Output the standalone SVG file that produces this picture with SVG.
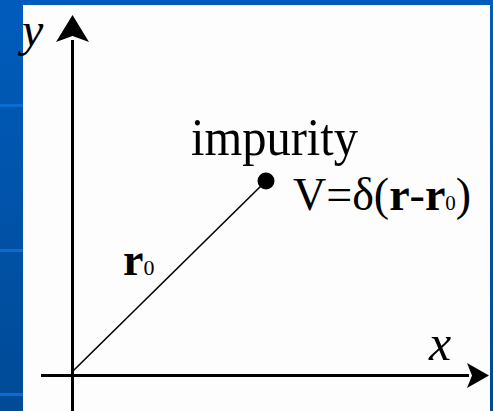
<svg xmlns="http://www.w3.org/2000/svg" width="493" height="411" viewBox="0 0 493 411">
  <defs>
    <linearGradient id="bg" x1="0" y1="0" x2="0" y2="1">
      <stop offset="0" stop-color="#005cbc"/>
      <stop offset="1" stop-color="#004a96"/>
    </linearGradient>
    <marker id="arrow-y" viewBox="0 0 28 34" refX="2" refY="17" markerWidth="28" markerHeight="34" markerUnits="userSpaceOnUse" orient="auto">
      <path d="M0,0.5 L27,17 L0,33.5 L6,17 Z" fill="#000"/>
    </marker>
    <marker id="arrow-x" viewBox="0 0 24 26" refX="2" refY="13" markerWidth="24" markerHeight="26" markerUnits="userSpaceOnUse" orient="auto">
      <path d="M0,0.5 L22,13 L0,25.5 L5,13 Z" fill="#000"/>
    </marker>
  </defs>
  <style>
    .serif { font-family: "Liberation Serif", "Times New Roman", serif; fill: #000; }
    .axis { stroke: #000; stroke-width: 3; fill: none; }
    .band { fill: #0a6cd2; }
  </style>
  <g id="background">
    <rect x="0" y="0" width="493" height="411" fill="url(#bg)"/>
    <rect class="band" x="0" y="104" width="23" height="3"/>
    <rect class="band" x="0" y="249" width="23" height="3"/>
    <rect class="band" x="0" y="393" width="23" height="3"/>
    <rect x="23" y="5" width="467" height="406" fill="#fdfdfd"/>
  </g>
  <g id="connectors">
    <line id="y-axis" class="axis" x1="72.5" y1="411" x2="72.5" y2="40" marker-end="url(#arrow-y)"/>
    <line id="x-axis" class="axis" x1="41" y1="375.5" x2="469" y2="375.5" marker-end="url(#arrow-x)"/>
    <line id="r0-vector" x1="73" y1="371" x2="266" y2="181" stroke="#000" stroke-width="1.6"/>
  </g>
  <g id="y-label">
    <text class="serif" x="22" y="46" font-size="48" font-style="italic">y</text>
  </g>
  <g id="x-label">
    <text class="serif" x="429" y="360" font-size="50" font-style="italic">x</text>
  </g>
  <g id="impurity">
    <circle cx="266" cy="181" r="8.5" fill="#000"/>
    <text class="serif" x="191" y="155" font-size="52" textLength="167" lengthAdjust="spacingAndGlyphs">impurity</text>
  </g>
  <g id="potential">
    <text class="serif" x="293" y="210" font-size="46">V=δ(<tspan font-weight="bold">r</tspan>-<tspan font-weight="bold">r</tspan><tspan font-size="21">0</tspan>)</text>
  </g>
  <g id="r0-label">
    <text class="serif" x="123" y="275" font-size="46"><tspan font-weight="bold">r</tspan><tspan font-size="22">0</tspan></text>
  </g>
</svg>
